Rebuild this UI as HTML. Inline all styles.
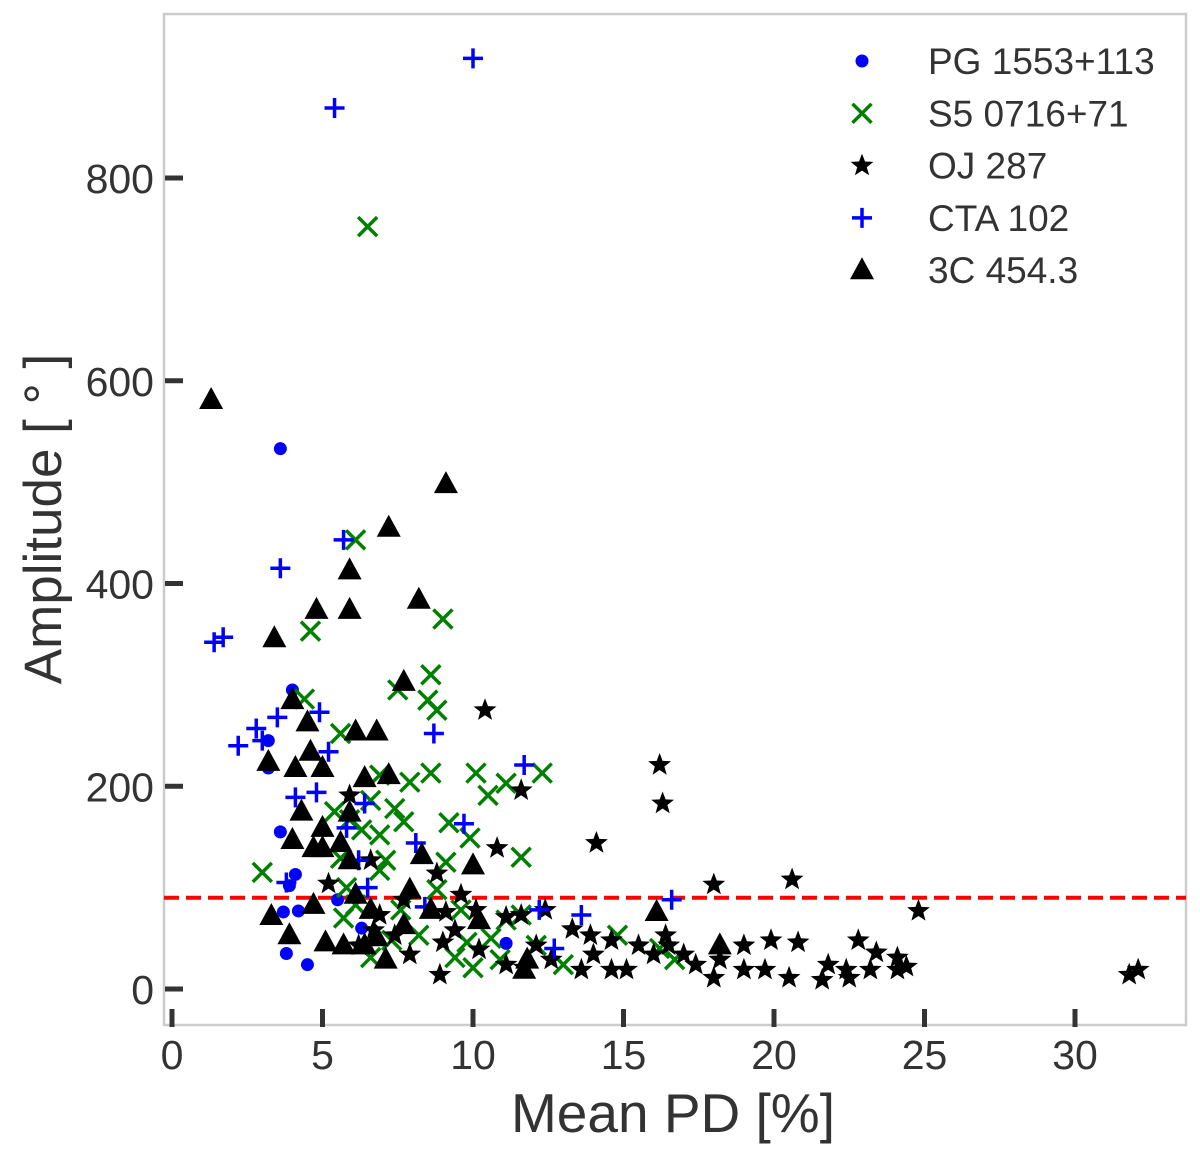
<!DOCTYPE html>
<html><head><meta charset="utf-8"><style>
body{margin:0;background:#fff}
svg{display:block;font-family:"Liberation Sans",sans-serif}
</style></head><body>
<svg id="chart" width="1200" height="1151" viewBox="0 0 1200 1151" xmlns="http://www.w3.org/2000/svg">
<rect x="164" y="14" width="1022" height="1011" fill="#fff" stroke="#cccccc" stroke-width="2.5"/>
<g id="ticks"></g>
<g id="marks"></g>
<g id="legend"></g>
<text x="673" y="1132" font-size="55" fill="#333" text-anchor="middle">Mean PD [%]</text>
<text transform="translate(61,519) rotate(-90)" font-size="53" fill="#333" text-anchor="middle">Amplitude [ ° ]</text>
</svg>
<script>
const xTicks=[0,5,10,15,20,25,30];
const yTicks=[0,200,400,600,800];
const threshold=90;
const pgData=[[3.6,533],[4.0,295],[3.2,245],[3.2,218],[3.6,155],[4.1,113],[3.9,102],[3.7,76],[4.2,77],[3.8,35],[4.5,24],[11.1,45],[5.5,88],[6.3,60]];
const s5Data=[[6.5,752],[6.1,443],[9.0,365],[4.6,353],[4.4,286],[8.6,310],[8.5,285],[8.8,275],[7.5,295],[5.6,252],[3.0,115],[8.6,213],[10.1,213],[10.5,191],[11.1,203],[12.3,213],[11.6,130],[9.2,164],[9.9,149],[7.4,178],[7.7,165],[7.9,204],[6.9,211],[6.6,186],[5.4,175],[5.9,167],[6.3,157],[6.9,152],[5.6,129],[7.1,127],[6.9,117],[9.1,125],[8.8,98],[5.8,100],[6.1,83],[5.7,70],[7.6,78],[7.3,48],[6.6,31],[9.6,78],[9.8,46],[9.4,31],[10.0,21],[10.6,50],[11.1,68],[11.6,73],[12.1,43],[13.0,24],[14.8,53],[16.2,40],[16.7,29],[8.2,53],[10.9,29]];
const ojData=[[10.4,275],[16.2,221],[16.3,183],[11.6,196],[14.1,144],[10.8,139],[18.0,103],[20.6,108],[24.8,77],[5.9,191],[6.6,127],[8.8,114],[5.2,104],[9.1,76],[10.1,78],[11.1,71],[11.6,73],[12.4,78],[13.3,59],[13.9,53],[14.6,48],[14.0,34],[14.6,19],[15.1,19],[15.5,43],[16.0,34],[16.4,53],[16.5,43],[17.0,34],[17.4,24],[18.0,11],[18.2,29],[19.0,43],[19.0,19],[19.9,48],[19.7,19],[20.5,11],[20.8,46],[21.6,9],[21.8,24],[22.4,19],[22.5,11],[22.8,48],[23.2,19],[23.4,36],[24.1,31],[24.1,19],[24.4,22],[31.8,14],[32.1,19],[8.9,14],[9.0,46],[9.4,58],[10.2,39],[11.1,24],[11.7,21],[12.1,43],[12.6,29],[13.6,19],[7.4,53],[6.7,58],[6.2,43],[7.7,88],[6.9,73],[9.6,93],[7.9,34]];
const ctaData=[[10.0,918],[5.4,869],[5.7,443],[3.6,415],[1.4,342],[1.7,347],[2.8,257],[3.5,268],[4.9,273],[2.2,240],[3.0,245],[5.2,234],[4.1,189],[4.8,194],[9.7,163],[11.7,221],[8.7,252],[5.8,159],[6.2,127],[6.5,100],[3.8,105],[8.1,144],[8.4,81],[12.2,78],[13.6,73],[16.6,88],[12.7,40],[6.4,183]];
const c3Data=[[1.3,581],[9.1,498],[7.2,455],[5.9,413],[5.9,374],[4.8,374],[8.2,384],[3.4,346],[7.7,303],[4.0,285],[4.5,263],[6.1,254],[6.8,254],[4.6,234],[4.1,218],[3.2,224],[5.0,218],[7.2,211],[6.4,208],[4.3,175],[5.9,174],[5.0,159],[4.0,147],[5.6,144],[4.7,139],[5.0,139],[5.9,127],[8.3,132],[10.0,122],[4.7,83],[3.3,72],[3.9,53],[5.1,46],[5.7,43],[6.4,43],[6.8,51],[7.1,29],[7.7,63],[7.9,98],[8.6,78],[10.2,68],[11.7,19],[11.8,29],[16.1,76],[18.2,43],[6.6,78],[6.1,93]];
const legendLabels=["PG 1553+113","S5 0716+71","OJ 287","CTA 102","3C 454.3"];

const NS="http://www.w3.org/2000/svg";
const X=v=>172+v*30.1;
const Y=v=>989-v*1.01375;
function el(tag,attrs,parent){const e=document.createElementNS(NS,tag);for(const k in attrs)e.setAttribute(k,attrs[k]);parent.appendChild(e);return e;}
const ticks=document.getElementById('ticks'),marks=document.getElementById('marks'),legend=document.getElementById('legend');
xTicks.forEach(t=>{
  const l=el('line',{x1:X(t),x2:X(t),y1:1009,y2:1027,stroke:'#333','stroke-width':5},ticks);
  
  
  const tx=el('text',{x:X(t),y:1069,'font-size':41,fill:'#333','text-anchor':'middle'},ticks);tx.textContent=t;
  
  
});
yTicks.forEach(t=>{
  const l=el('line',{x1:165,x2:183,y1:Y(t),y2:Y(t),stroke:'#333','stroke-width':5},ticks);
  
  
  const tx=el('text',{x:154,y:Y(t)+15,'font-size':41,fill:'#333','text-anchor':'end'},ticks);tx.textContent=t;
  
  
});
const th=el('line',{x1:164,x2:1186,y1:Y(threshold),y2:Y(threshold),stroke:'#ff0000','stroke-width':4,'stroke-dasharray':'15,7'},marks);



function star(cx,cy,R){let p=[];for(let i=0;i<10;i++){const r=i%2?R*0.42:R;const a=-Math.PI/2+i*Math.PI/5;p.push((cx+r*Math.cos(a)).toFixed(1)+','+(cy+r*Math.sin(a)).toFixed(1));}return p.join(' ');}
function draw(type,cx,cy,parent){
  if(type==='dot')return el('circle',{cx,cy,r:6.5,fill:'#0000ff'},parent);
  if(type==='x')return el('path',{d:`M${cx-9.5},${cy-9.5}L${cx+9.5},${cy+9.5}M${cx-9.5},${cy+9.5}L${cx+9.5},${cy-9.5}`,stroke:'#008000','stroke-width':3.5,fill:'none'},parent);
  if(type==='star')return el('polygon',{points:star(cx,cy,12),fill:'#000'},parent);
  if(type==='plus')return el('path',{d:`M${cx-10},${cy}L${cx+10},${cy}M${cx},${cy-10}L${cx},${cy+10}`,stroke:'#0000ff','stroke-width':3.5,fill:'none'},parent);
  return el('polygon',{points:`${cx},${cy-13} ${cx+12},${cy+9} ${cx-12},${cy+9}`,fill:'#000'},parent);
}
const series=[[pgData,'dot','pg1553-point'],[s5Data,'x','s5-0716-point'],[ojData,'star','oj287-point'],[ctaData,'plus','cta102-point'],[c3Data,'tri','3c454-point']];
series.forEach(([d,type,name])=>{d.forEach(p=>{
  const m=draw(type,X(p[0]),Y(p[1]),marks);
  
  
});});
legendLabels.forEach((lab,i)=>{
  const cy=61+i*52.3;
  const m=draw(series[i][1],862,cy,legend);
  
  
  const t=el('text',{x:928,y:cy+13,'font-size':37,fill:'#333'},legend);t.textContent=lab;
  
  
});
</script>
</body></html>
